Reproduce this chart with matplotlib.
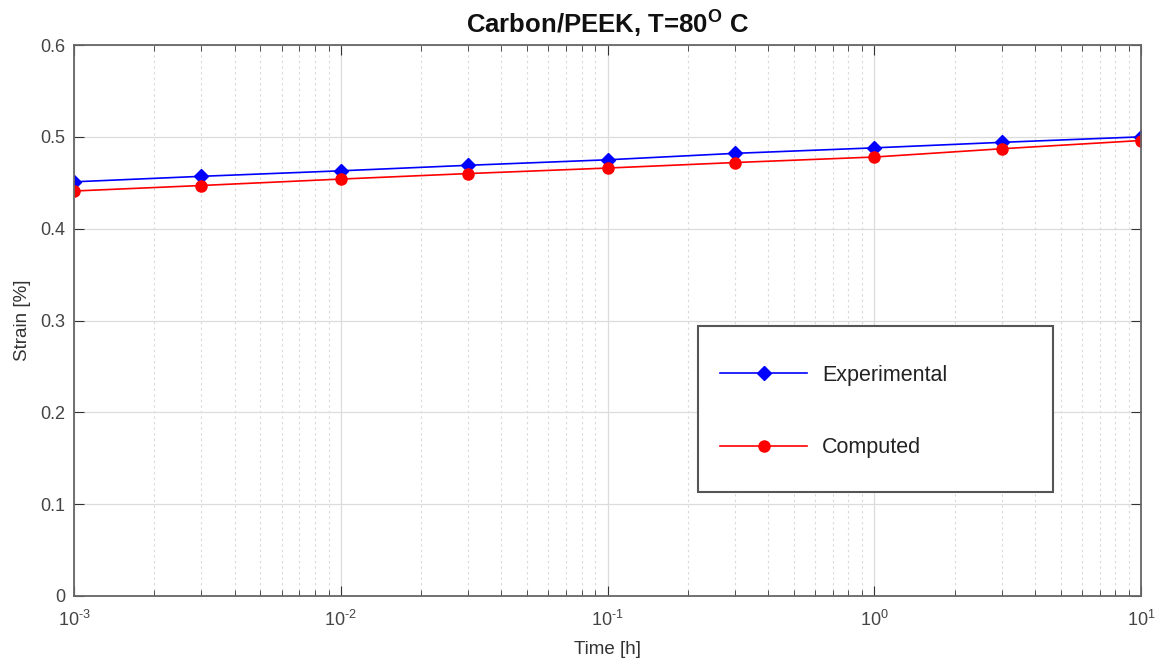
import matplotlib
matplotlib.use("Agg")
import matplotlib.pyplot as plt
from matplotlib.patches import Rectangle
from matplotlib.ticker import LogLocator, NullFormatter

time_h = [1e-3, 3e-3, 1e-2, 3e-2, 1e-1, 3e-1, 1.0, 3.0, 10.0]
experimental = [0.451, 0.457, 0.463, 0.469, 0.475, 0.482, 0.488, 0.494, 0.500]
computed = [0.441, 0.447, 0.454, 0.460, 0.466, 0.472, 0.478, 0.487, 0.496]
x_ticks = [1e-3, 1e-2, 1e-1, 1e0, 1e1]
x_tick_labels = [r'$10^{\text{-3}}$', r'$10^{\text{-2}}$', r'$10^{\text{-1}}$',
                 r'$10^{0}$', r'$10^{1}$']
y_ticks = [0, 0.1, 0.2, 0.3, 0.4, 0.5, 0.6]
y_tick_labels = ['0', '0.1', '0.2', '0.3', '0.4', '0.5', '0.6']

plt.rcParams['font.family'] = ['Liberation Sans', 'DejaVu Sans']
plt.rcParams['mathtext.fontset'] = 'custom'
plt.rcParams['mathtext.rm'] = 'Liberation Sans'
plt.rcParams['mathtext.sf'] = 'Liberation Sans'
plt.rcParams['mathtext.it'] = 'Liberation Sans'
plt.rcParams['mathtext.bf'] = 'Liberation Sans:bold'
plt.rcParams['mathtext.default'] = 'regular'

fig = plt.figure(figsize=(11.63, 6.68), dpi=100)
ax = fig.add_axes([74/1163, 1 - 596/668, (1141-74)/1163, (596-45)/668])

ax.plot(time_h, experimental, color='#0000ff', marker='D', markersize=7, lw=1.2,
        label='Experimental')
ax.plot(time_h, computed, color='#ff0000', marker='o', markersize=8, lw=1.2,
        label='Computed')

ax.set_xscale('log')
ax.set_xlim(1e-3, 1e1)
ax.set_ylim(0, 0.6)
ax.set_xticks(x_ticks)
ax.set_xticklabels(x_tick_labels)
ax.set_yticks(y_ticks)
ax.set_yticklabels(y_tick_labels)
ax.xaxis.set_minor_locator(LogLocator(base=10, subs=range(2, 10)))
ax.xaxis.set_minor_formatter(NullFormatter())

ax.grid(True, which='major', color='#dcdcdc', lw=0.9, ls='-')
ax.grid(True, which='minor', axis='x', color='#d8d8d8', lw=0.8, ls=(0, (2, 3)))
ax.set_axisbelow(True)

ax.tick_params(which='both', direction='in', top=True, right=True,
               labelsize=13, colors='#333333', labelcolor='#444444', length=7)
ax.tick_params(which='minor', length=4)
ax.tick_params(axis='x', which='major', pad=10)
ax.tick_params(axis='y', which='major', pad=6)
for s in ax.spines.values():
    s.set_color('#666666')
    s.set_linewidth(1.3)

ax.set_xlabel('Time [h]', fontsize=13.5, color='#333333', labelpad=8)
ax.set_ylabel('Strain [%]', fontsize=13.5, color='#333333', labelpad=7)
ax.set_title(r'Carbon/PEEK, T=80$^{\mathbf{O}}$ C', fontsize=18.5, fontweight='bold',
             color='#111111', pad=8)

# legend box frame
frame = Rectangle(((698-74)/1067, 1 - (492-45)/551), (1053-698)/1067, (492-326)/551,
                  transform=ax.transAxes, facecolor='white', edgecolor='#555555',
                  linewidth=1.5, zorder=4)
ax.add_patch(frame)

leg = ax.legend(loc='center left',
                bbox_to_anchor=((720-74)/1067, 1 - (411.5-45)/551),
                fontsize=15.5, frameon=False, handlelength=4.05,
                labelspacing=2.4, borderpad=0, handletextpad=0.7,
                borderaxespad=0)
leg.set_zorder(5)
for t in leg.get_texts():
    t.set_color('#222222')

fig.savefig('out.png', dpi=100)
